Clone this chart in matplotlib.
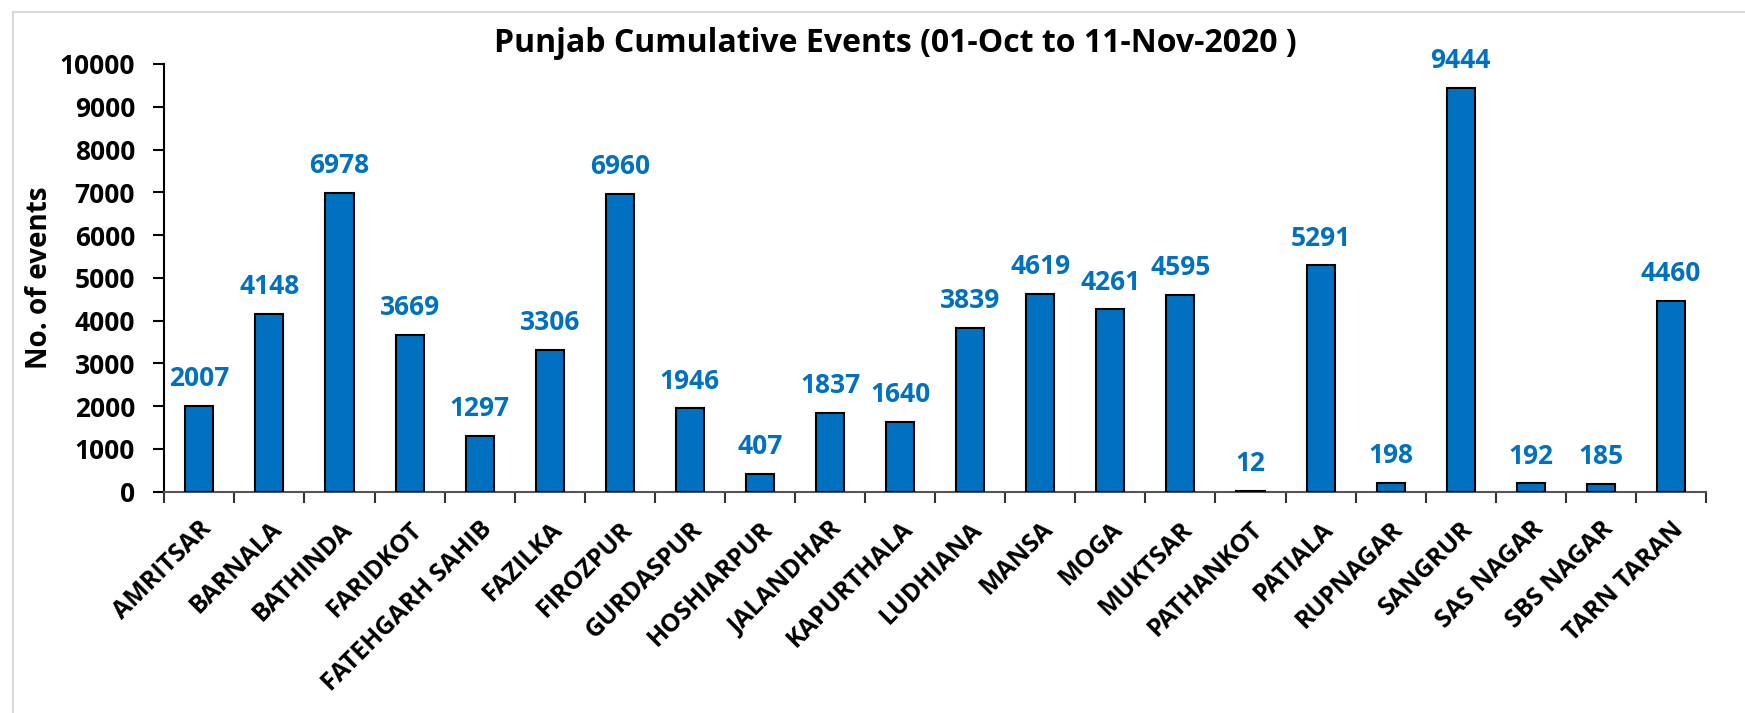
import matplotlib.pyplot as plt
import numpy as np
from matplotlib.patches import Rectangle

districts = ["AMRITSAR", "BARNALA", "BATHINDA", "FARIDKOT", "FATEHGARH SAHIB",
             "FAZILKA", "FIROZPUR", "GURDASPUR", "HOSHIARPUR", "JALANDHAR",
             "KAPURTHALA", "LUDHIANA", "MANSA", "MOGA", "MUKTSAR", "PATHANKOT",
             "PATIALA", "RUPNAGAR", "SANGRUR", "SAS NAGAR", "SBS NAGAR", "TARN TARAN"]
events = [2007, 4148, 6978, 3669, 1297, 3306, 6960, 1946, 407, 1837, 1640,
          3839, 4619, 4261, 4595, 12, 5291, 198, 9444, 192, 185, 4460]
yticks = [0, 1000, 2000, 3000, 4000, 5000, 6000, 7000, 8000, 9000, 10000]

plt.rcParams['font.family'] = ['Open Sans', 'DejaVu Sans']
plt.rcParams['font.weight'] = 'bold'

W, H = 1745, 713
fig = plt.figure(figsize=(W / 100, H / 100), dpi=100)
ax = fig.add_axes([164.3 / W, 1 - 491.7 / H, (1706 - 164.3) / W, (491.7 - 64) / H])

# light chart-area frame
fig.patches.append(Rectangle((13 / W, -0.1), 1.2, 1 - 12 / H + 0.1, transform=fig.transFigure,
                             fill=False, edgecolor='#d9d9d9', linewidth=1.5))

x = np.arange(len(districts))
ax.bar(x, events, width=0.4, color='#0070C0', edgecolor='black', linewidth=1.5, zorder=3)

for xi, v in zip(x, events):
    ax.annotate(str(v), (xi, v), xytext=(0, 10), textcoords='offset points',
                ha='center', va='bottom', color='#0070C0', fontsize=19, fontweight='bold')

ax.set_xlim(-0.5, len(districts) - 0.5)
ax.set_ylim(0, 10000)
ax.set_yticks(yticks)
ax.set_yticklabels([str(t) for t in yticks], fontsize=19, fontweight='bold')

ax.set_xticks(np.arange(len(districts) + 1) - 0.5)
ax.set_xticklabels([])
ax.set_xticks(x, minor=True)
ax.set_xticklabels(districts, minor=True, rotation=45, ha='right',
                   rotation_mode='anchor', fontsize=18, fontweight='bold')
ax.tick_params(axis='x', which='minor', length=0, pad=18)
ax.tick_params(axis='x', which='major', length=8, width=1.5, color='#333333')
ax.tick_params(axis='y', length=8, width=1.5, pad=13)

for s in ['top', 'right']:
    ax.spines[s].set_visible(False)
ax.spines['left'].set_linewidth(1.5)
ax.spines['bottom'].set_linewidth(1.5)
ax.spines['bottom'].set_color('#555555')

ax.set_ylabel("No. of events", fontsize=20, fontweight='bold')
ax.yaxis.set_label_coords((54 - 164.3) / (1706 - 164.3), 0.5)
fig.text(895 / W, 1 - 43 / H, "Punjab Cumulative Events (01-Oct to 11-Nov-2020 )",
         ha='center', va='center', fontsize=23, fontweight='bold')

fig.savefig("out.png", dpi=100)
